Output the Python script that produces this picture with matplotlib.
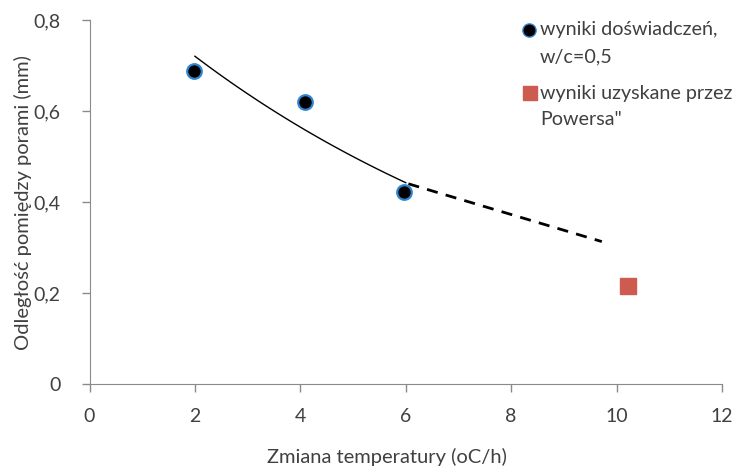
import numpy as np
import matplotlib
matplotlib.use('Agg')
import matplotlib.pyplot as plt

plt.rcParams['font.family'] = ['Lato', 'DejaVu Sans']

# measured points (w/c = 0.5)
x_exp = [1.98, 4.09, 5.96]
y_exp = [0.688, 0.619, 0.421]

# Powers result
x_pow = [10.22]
y_pow = [0.215]

# dashed extension line
x_ext = [6.05, 9.72]
y_ext = [0.44, 0.313]

xticks = [0, 2, 4, 6, 8, 10, 12]
yticks = [0, 0.2, 0.4, 0.6, 0.8]
ylabels = ['0', '0,2', '0,4', '0,6', '0,8']

label_exp = 'wyniki doświadczeń,\nw/c=0,5'
label_pow = 'wyniki uzyskane przez\nPowersa"'

blue = '#2f86d0'
red = '#cd5b50'
txt = '#404040'
grey = '#8a8a8a'

# exponential trend through measured points
b, lna = np.polyfit(x_exp, np.log(y_exp), 1)
xt = np.linspace(2.0, 6.0, 100)
yt = np.exp(lna) * np.exp(b * xt)

fig = plt.figure(figsize=(7.47, 4.70), dpi=100)
ax = fig.add_axes([89.5 / 747, 1 - 384 / 470, (722 - 89.5) / 747, 364 / 470])

ax.plot(xt, yt, color='black', lw=1.0, zorder=2)
ax.plot(x_ext, y_ext, color='black', lw=2.0, ls=(0, (4, 3)), zorder=2)
ax.plot(x_exp, y_exp, 'o', color='black', mec=blue, mew=1.6, ms=10.5, zorder=3)
ax.plot(x_pow, y_pow, 's', color=red, mec=red, ms=11.5, zorder=3)

ax.set_xlim(0, 12)
ax.set_ylim(0, 0.8)
ax.set_xticks(xticks)
ax.set_yticks(yticks)
ax.set_yticklabels(ylabels)
ax.tick_params(axis='both', colors=grey, labelcolor=txt,
               labelsize=14, length=6, width=1)
ax.tick_params(axis='x', pad=11)
ax.tick_params(axis='y', pad=15)
for s in ['top', 'right']:
    ax.spines[s].set_visible(False)
for s in ['left', 'bottom']:
    ax.spines[s].set_color(grey)

ax.set_xlabel('Zmiana temperatury (oC/h)', fontsize=14.5, color=txt,
              ha='center', va='center')
ax.xaxis.set_label_coords((387 - 89.5) / 632.5, (384 - 457) / 364)
ax.set_ylabel('Odległość pomiędzy porami (mm)', fontsize=14.5, color=txt,
              ha='center', va='center')
ax.yaxis.set_label_coords((23 - 89.5) / 632.5, (384 - 203) / 364)

# legend drawn by hand so that the marker sits on the first text line
def fx(px):
    return px / 747

def fy(py):
    return 1 - py / 470

fig.lines.append(plt.Line2D([fx(529)], [fy(30)], marker='o', color='black',
                            mec=blue, mew=1.0, ms=9.5, transform=fig.transFigure))
fig.lines.append(plt.Line2D([fx(530)], [fy(93)], marker='s', color=red,
                            mec=red, ms=10.5, transform=fig.transFigure))
fig.text(fx(540), fy(30), label_exp.split('\n')[0], fontsize=14.2, color=txt, va='center')
fig.text(fx(540), fy(57), label_exp.split('\n')[1], fontsize=14.2, color=txt, va='center')
fig.text(fx(540), fy(93), label_pow.split('\n')[0], fontsize=14.2, color=txt, va='center')
fig.text(fx(540), fy(120), label_pow.split('\n')[1], fontsize=14.2, color=txt, va='center')

fig.savefig('out.png', dpi=100)
